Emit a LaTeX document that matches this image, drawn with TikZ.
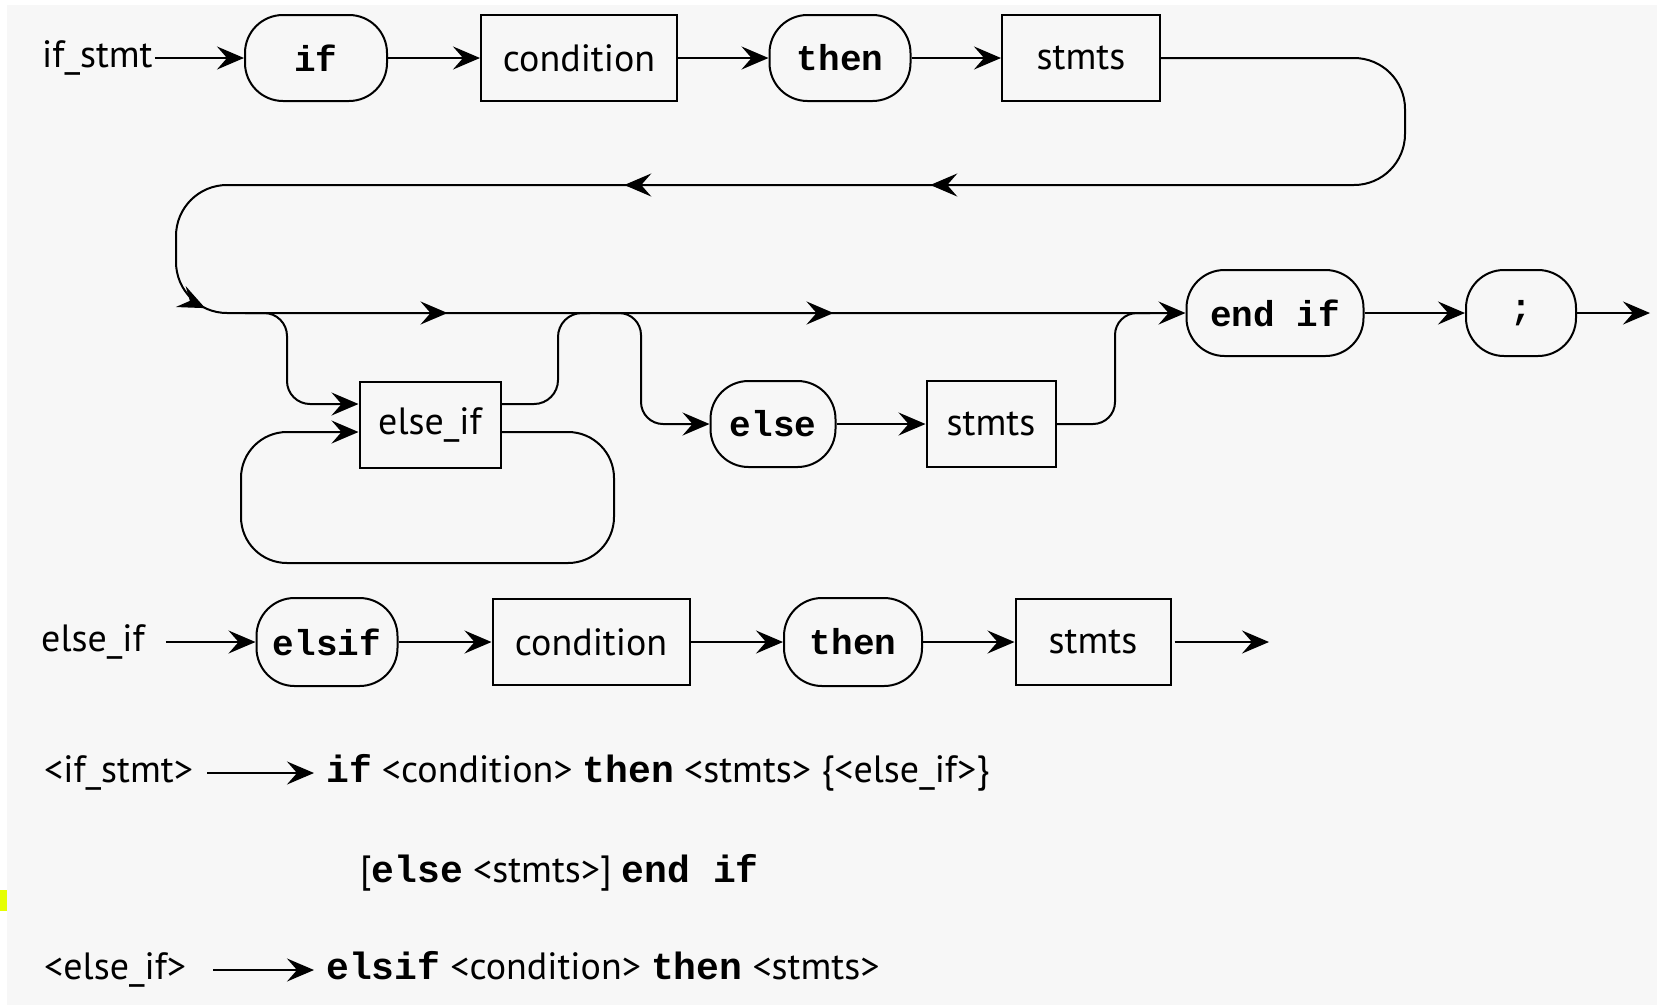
\documentclass[tikz,border=0pt]{standalone}
\usepackage{fontspec}
\setmainfont{PT Sans}
\newfontfamily\kwfont{Liberation Mono}
\usetikzlibrary{arrows.meta,decorations.markings}
\definecolor{paper}{HTML}{F7F7F7}
\definecolor{marker}{HTML}{E6FF00}
\newcommand\kwtext[1]{{\kwfont\bfseries #1}}

\tikzset{
  >={Stealth[length=27pt,width=23pt,inset=10pt]},
  wire/.style={line width=2pt},
  flow/.style={wire,->},
  terminal/.style={draw,line width=2pt,rounded corners=38pt,minimum height=86pt,
    inner sep=0pt,font=\kwfont\bfseries\fontsize{36}{40}\selectfont},
  nonterminal/.style={draw,line width=2pt,minimum height=86pt,inner sep=0pt,
    font=\fontsize{38}{44}\selectfont},
  label/.style={inner sep=0pt,text height=28pt,text depth=9pt,
    font=\fontsize{38}{44}\selectfont},
  midtips/.style={postaction={decorate},decoration={markings,#1}},
}

\begin{document}
\begin{tikzpicture}[x=1pt,y=-1pt]
\useasboundingbox (0,0) rectangle (1657,1005);
\fill[white] (0,0) rectangle (1657,1005);
\fill[paper] (7,5) rectangle (1657,1005);
\fill[marker] (0,890) rectangle (7,911);

% ---------- if_stmt syntax graph ----------
\node[label,anchor=west] (ifstmt) at (42,58) {if\_stmt};
\node[terminal,minimum width=142pt] (kif) at (316,58) {if};
\node[nonterminal,minimum width=196pt] (cond) at (579,58) {condition};
\node[terminal,minimum width=141pt] (kthen) at (840,58) {then};
\node[nonterminal,minimum width=158pt] (stmts) at (1081,58) {stmts};

\draw[flow,shorten <=2pt] (ifstmt.east) -- (kif.west);
\draw[flow] (kif.east) -- (cond.west);
\draw[flow] (cond.east) -- (kthen.west);
\draw[flow] (kthen.east) -- (stmts.west);

\node[terminal,minimum width=177pt] (kend) at (1275,313) {end if};
\node[terminal,minimum width=110pt] (semi) at (1521,313) {;};
\coordinate (tail) at (1650,313);

% loop back from stmts and the main line into end if
\coordinate (rtop) at (1405,58);
\coordinate (rbot) at (1405,185);
\coordinate (ltop) at (176,185);
\coordinate (lbot) at (176,313);
\draw[flow,rounded corners=51pt,
  midtips={mark=at position 802pt with {\arrow{>}},
           mark=at position 1108pt with {\arrow{>}},
           mark=at position 1669pt with {\arrow{>}},
           mark=at position 1912pt with {\arrow{>}},
           mark=at position 2298pt with {\arrow{>}}}]
  (stmts.east) -- (rtop) -- (rbot) -- (ltop) -- (lbot) -- (kend.west);

\draw[flow] (kend.east) -- (semi.west);
\draw[flow] (semi.east) -- (tail);

% optional else_if repetitions
\node[nonterminal,minimum width=141pt] (elseif) at (430,425) {else\_if};
\coordinate (j1) at (245,313);
\coordinate (j2) at (590,313);
\draw[flow,rounded corners=23pt] (j1) -- (287,313) -- (287,404) -- ([yshift=21pt]elseif.west);
\draw[wire,rounded corners=24pt] ([yshift=21pt]elseif.east) -- (558,404) -- (558,313) -- (j2);
\draw[flow,rounded corners=46pt] ([yshift=-7pt]elseif.east) -- (614,432) -- (614,563)
  -- (241,563) -- (241,432) -- ([yshift=-7pt]elseif.west);

% optional else part
\node[terminal,minimum width=125pt] (kelse) at (773,424) {else};
\node[nonterminal,minimum width=129pt] (stmtsb) at (991,424) {stmts};
\coordinate (j3) at (600,313);
\coordinate (j4) at (1150,313);
\draw[flow,rounded corners=22pt] (j3) -- (641,313) -- (641,424) -- (kelse.west);
\draw[flow] (kelse.east) -- (stmtsb.west);
\draw[wire,rounded corners=22pt] (stmtsb.east) -- (1115,424) -- (1115,313) -- (j4);

% ---------- else_if syntax graph ----------
\node[label,anchor=west] (elseiflab) at (41,642) {else\_if};
\node[terminal,minimum width=141pt,minimum height=88pt] (kelsif) at (327,642) {elsif};
\node[nonterminal,minimum width=197pt] (condb) at (591,642) {condition};
\node[terminal,minimum width=138pt,minimum height=88pt] (kthenb) at (853,642) {then};
\node[nonterminal,minimum width=155pt] (stmtsc) at (1093,642) {stmts};
\coordinate (tailb) at (1269,642);

\draw[flow,shorten <=21pt] (elseiflab.east) -- (kelsif.west);
\draw[flow] (kelsif.east) -- (condb.west);
\draw[flow] (condb.east) -- (kthenb.west);
\draw[flow] (kthenb.east) -- (stmtsc.west);
\draw[flow,shorten <=3pt] (stmtsc.east) -- (tailb);

% ---------- EBNF rules ----------
\node[label,anchor=west] (rulea) at (44,773) {<if\_stmt>};
\node[label,anchor=west] (ruleab) at (326,773)
  {\kwtext{if} <condition> \kwtext{then} <stmts> \{<else\_if>\}};
\node[label,anchor=west] (ruleac) at (360,873) {[\kwtext{else} <stmts>] \kwtext{end if}};
\draw[flow,shorten <=14pt,shorten >=12pt] (rulea.east) -- (ruleab.west);

\node[label,anchor=west] (ruleb) at (44,970) {<else\_if>};
\node[label,anchor=west] (rulebb) at (326,970)
  {\kwtext{elsif} <condition> \kwtext{then} <stmts>};
\draw[flow,shorten <=27pt,shorten >=12pt] (ruleb.east) -- (rulebb.west);
\end{tikzpicture}
\end{document}
